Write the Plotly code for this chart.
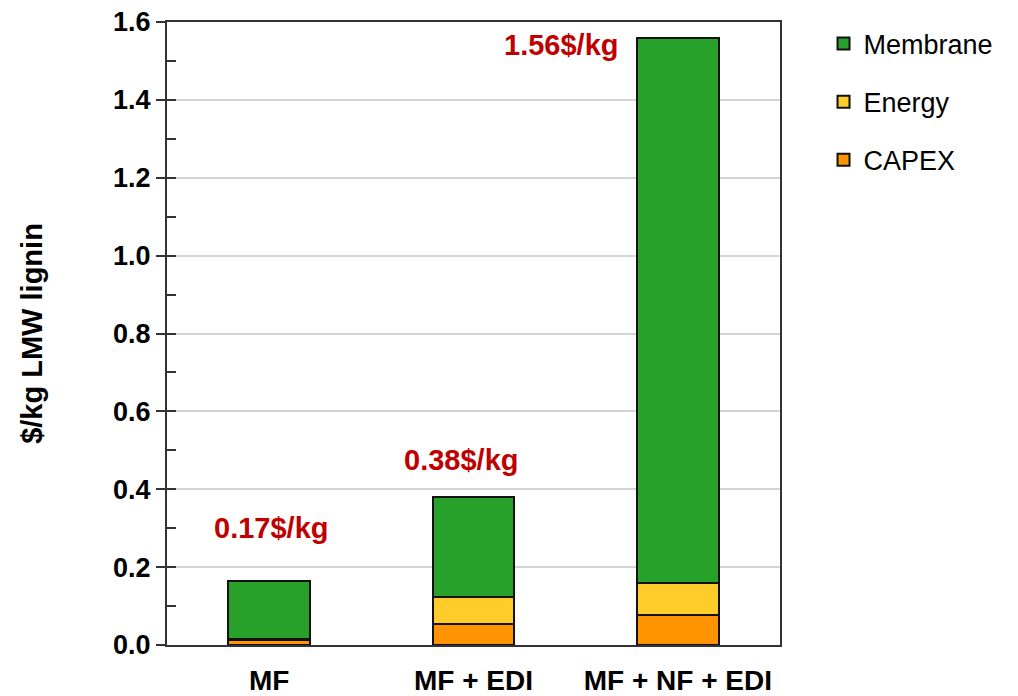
import plotly.graph_objects as go

# data
categories = ["MF", "MF + EDI", "MF + NF + EDI"]
capex = [0.012, 0.055, 0.078]
energy = [0.003, 0.068, 0.080]
membrane = [0.150, 0.257, 1.402]
total_labels = ["0.17$/kg", "0.38$/kg", "1.56$/kg"]
label_x = [0.01, 0.94, 1.43]
label_y = [0.30, 0.475, 1.54]
y_ticks = [0, 0.2, 0.4, 0.6, 0.8, 1.0, 1.2, 1.4, 1.6]

colors = {"CAPEX": "#FF9400", "Energy": "#FFCC29", "Membrane": "#28A12B"}
ranks = {"CAPEX": 3, "Energy": 2, "Membrane": 1}
font = "Liberation Sans, Arial, sans-serif"

fig = go.Figure()
for name, vals in [("CAPEX", capex), ("Energy", energy), ("Membrane", membrane)]:
    fig.add_trace(go.Bar(
        x=categories, y=vals, name=name, legendgroup=name, legendrank=ranks[name],
        marker=dict(color=colors[name], line=dict(color="#111111", width=2)),
        width=0.4,
    ))

# invisible trace to carry the inside ticks (major ticks cross the axis)
fig.add_trace(go.Scatter(x=[None], y=[None], yaxis="y2", showlegend=False))

for i, t in enumerate(total_labels):
    fig.add_annotation(x=label_x[i], y=label_y[i], text="<b>%s</b>" % t,
                       showarrow=False, font=dict(color="#C00000", size=29, family=font))

fig.update_layout(
    barmode="stack",
    width=1018, height=696,
    margin=dict(l=167, r=238, t=22, b=51),
    plot_bgcolor="white", paper_bgcolor="white",
    font=dict(family=font, color="black"),
    showlegend=True,
    legend=dict(x=1.071, y=1.004, xanchor="left", yanchor="top",
                traceorder="grouped", tracegroupgap=20,
                font=dict(size=27, family=font)),
    xaxis=dict(range=[-0.5, 2.5], showline=True, linecolor="#333333", linewidth=2,
               mirror=True, ticks="", tickfont=dict(size=28, family=font),
               ticklabelstandoff=9, tickprefix="<b>", ticksuffix="</b>",
               automargin=False),
    yaxis=dict(range=[0, 1.6], tickmode="array", tickvals=y_ticks,
               ticktext=["<b>%.1f</b>" % v for v in y_ticks], showline=True,
               linecolor="#333333", linewidth=2, mirror=True,
               ticks="outside", ticklen=9, tickwidth=2, tickcolor="#333333",
               showgrid=True, gridcolor="#D4D4D4", gridwidth=1.5, zeroline=False,
               tickfont=dict(size=27, family=font),
               automargin=False,
               title=dict(text="<b>$/kg LMW lignin</b>", font=dict(size=29, family=font),
                          standoff=62)),
    yaxis2=dict(range=[0, 1.6], dtick=0.1, overlaying="y", side="left",
                ticks="inside", ticklen=9, tickwidth=2, tickcolor="#333333",
                showticklabels=False, showgrid=False, zeroline=False, showline=False,
                automargin=False),
)

# drop the browser's default 8px body margin so the figure sits at the page corner
fig.write_html("out.html", config={"displayModeBar": False},
               post_script="document.body.style.margin = '0px';")
